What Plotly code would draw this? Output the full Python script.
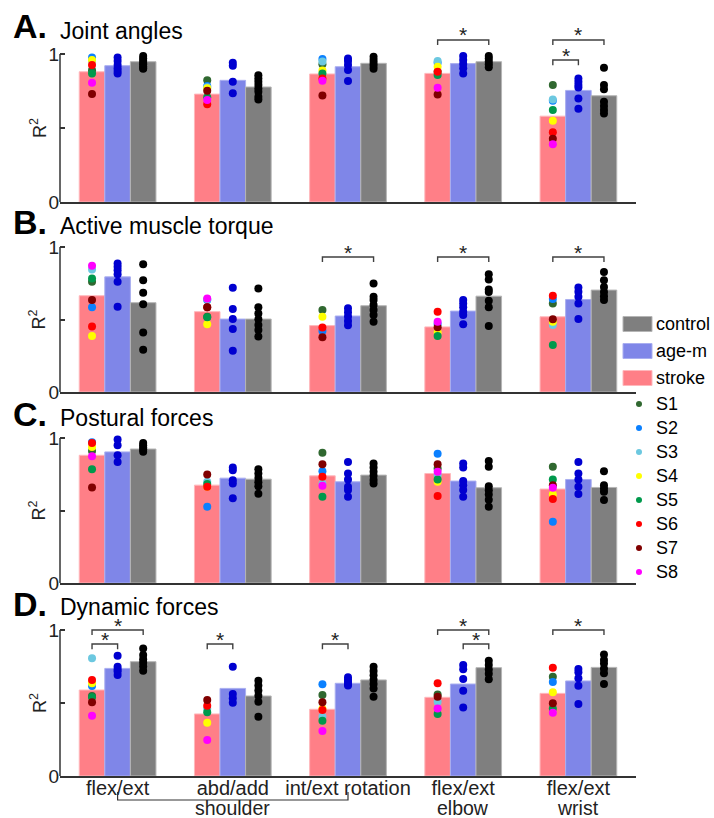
import plotly.graph_objects as go

FONT = "Liberation Sans, Arial, Helvetica, sans-serif"

# ---------------- data ----------------
groups = ["flex/ext", "abd/add", "int/ext rotation", "flex/ext", "flex/ext"]
group_line2 = ["", "", "", "elbow", "wrist"]
joint_label = "shoulder"

panel_letters = ["A.", "B.", "C.", "D."]
panel_titles = ["Joint angles", "Active muscle torque", "Postural forces", "Dynamic forces"]

series_names = ["stroke", "age-m", "control"]
subjects = ["S1", "S2", "S3", "S4", "S5", "S6", "S7", "S8"]

# bar heights (mean R^2) per panel
stroke_A = [0.880, 0.729, 0.865, 0.869, 0.580]
agem_A = [0.921, 0.822, 0.914, 0.935, 0.754]
control_A = [0.948, 0.777, 0.937, 0.948, 0.718]

stroke_B = [0.664, 0.554, 0.458, 0.449, 0.519]
agem_B = [0.794, 0.503, 0.524, 0.558, 0.638]
control_B = [0.616, 0.503, 0.595, 0.661, 0.703]

stroke_C = [0.881, 0.675, 0.739, 0.755, 0.648]
agem_C = [0.904, 0.723, 0.698, 0.703, 0.714]
control_C = [0.924, 0.716, 0.744, 0.657, 0.659]

stroke_D = [0.589, 0.425, 0.457, 0.539, 0.566]
agem_D = [0.737, 0.600, 0.635, 0.630, 0.651]
control_D = [0.783, 0.548, 0.658, 0.742, 0.744]

# individual stroke subjects S1..S8, one list per subject over the 5 DOFs
subj_A = [
    [0.890, 0.822, 0.930, 0.880, 0.790],
    [0.977, 0.783, 0.966, 0.941, 0.684],
    [0.955, 0.775, 0.950, 0.953, 0.693],
    [0.960, 0.768, 0.889, 0.914, 0.549],
    [0.869, 0.707, 0.869, 0.858, 0.621],
    [0.926, 0.661, 0.835, 0.880, 0.472],
    [0.729, 0.752, 0.720, 0.727, 0.427],
    [0.806, 0.690, 0.820, 0.772, 0.391],
]
subj_B = [
    [0.760, 0.519, 0.565, None, 0.611],
    [0.584, 0.634, 0.421, 0.469, 0.641],
    [0.844, 0.640, None, None, 0.462],
    [0.387, 0.467, 0.519, 0.410, 0.485],
    [0.783, 0.515, None, 0.387, 0.325],
    [0.451, 0.584, 0.444, 0.554, 0.664],
    [0.634, 0.584, 0.378, 0.446, 0.501],
    [0.870, 0.645, None, 0.485, None],
]
subj_C = [
    [0.911, None, 0.899, 0.789, 0.801],
    [0.970, 0.526, 0.771, 0.892, 0.423],
    [None, 0.698, 0.685, 0.744, None],
    [0.938, 0.664, None, 0.698, 0.611],
    [0.785, 0.682, 0.595, 0.714, 0.714],
    [0.966, 0.664, 0.732, 0.600, 0.579],
    [0.659, 0.748, 0.819, 0.819, 0.675],
    [0.874, None, 0.670, 0.767, 0.657],
]
subj_D = [
    [0.548, None, 0.555, 0.559, 0.680],
    [0.616, None, 0.628, None, 0.644],
    [0.806, 0.460, 0.406, 0.509, None],
    [0.635, 0.365, 0.460, None, 0.573],
    [0.540, 0.436, 0.379, 0.425, 0.463],
    [0.658, 0.482, 0.452, 0.635, 0.742],
    [0.505, 0.521, 0.505, 0.543, 0.498],
    [0.413, 0.247, 0.308, 0.463, 0.434],
]

# individual age-matched controls and young controls, per DOF
agem_pts_A = [[0.977, 0.953, 0.926, 0.903, 0.885, 0.869], [0.941, 0.921, 0.813, 0.734],
              [0.970, 0.953, 0.926, 0.892, 0.817], [0.986, 0.959, 0.932, 0.903, 0.869],
              [0.835, 0.813, 0.790, 0.774, 0.700, 0.630]]
control_pts_A = [[0.986, 0.970, 0.955, 0.940, 0.930, 0.915, 0.905, 0.900],
                 [0.856, 0.835, 0.813, 0.790, 0.767, 0.745, 0.711, 0.693],
                 [0.982, 0.960, 0.940, 0.920, 0.900], [0.986, 0.970, 0.950, 0.930, 0.910],
                 [0.907, 0.790, 0.761, 0.677, 0.648, 0.621, 0.598]]

agem_pts_B = [[0.886, 0.863, 0.840, 0.812, 0.760, 0.588], [0.719, 0.572, 0.503, 0.435, 0.284],
              [0.577, 0.550, 0.520, 0.490, 0.460], [0.634, 0.611, 0.584, 0.554, 0.531, 0.467],
              [0.721, 0.691, 0.657, 0.611, 0.503]]
control_pts_B = [[0.881, 0.771, 0.684, 0.606, 0.410, 0.291],
                 [0.714, 0.584, 0.542, 0.501, 0.462, 0.428, 0.382],
                 [0.748, 0.657, 0.634, 0.600, 0.565, 0.531, 0.485],
                 [0.812, 0.776, 0.707, 0.690, 0.629, 0.584, 0.455],
                 [0.828, 0.771, 0.725, 0.690, 0.660, 0.634]]

agem_pts_C = [[0.989, 0.950, 0.881, 0.835], [0.796, 0.778, 0.709, 0.686, 0.584],
              [0.835, 0.755, 0.714, 0.664, 0.641, 0.595], [0.824, 0.796, 0.703, 0.675, 0.641, 0.595],
              [0.835, 0.755, 0.714, 0.664, 0.613]]
control_pts_C = [[0.966, 0.950, 0.935, 0.920, 0.905], [0.785, 0.755, 0.725, 0.695, 0.668, 0.616],
                 [0.824, 0.796, 0.767, 0.740, 0.710, 0.686],
                 [0.842, 0.801, 0.668, 0.640, 0.610, 0.575, 0.526],
                 [0.771, 0.675, 0.652, 0.629, 0.572]]

agem_pts_D = [[0.824, 0.749, 0.730, 0.715, 0.692], [0.749, 0.562, 0.532, 0.502],
              [0.676, 0.660, 0.645, 0.630, 0.620], [0.760, 0.731, 0.664, 0.584, 0.470],
              [0.733, 0.710, 0.669, 0.619, 0.493]]
control_pts_D = [[0.874, 0.829, 0.800, 0.775, 0.750, 0.721],
                 [0.653, 0.620, 0.585, 0.550, 0.509, 0.406],
                 [0.749, 0.720, 0.690, 0.660, 0.630, 0.600, 0.543],
                 [0.790, 0.760, 0.730, 0.700, 0.662],
                 [0.833, 0.795, 0.770, 0.735, 0.703, 0.630]]

# significance brackets: (DOF index, from series, to series, bracket level)
sig_A = [(3, 0, 2, 1.095), (4, 0, 2, 1.095), (4, 0, 1, 0.959)]
sig_B = [(2, 0, 2, 0.931), (3, 0, 2, 0.931), (4, 0, 2, 0.931)]
sig_C = []
sig_D = [(0, 0, 2, 1.0), (0, 0, 1, 0.904), (1, 0, 1, 0.904), (2, 0, 1, 0.904),
         (3, 0, 2, 1.0), (3, 1, 2, 0.904), (4, 0, 2, 1.0)]

# ---------------- styles ----------------
bar_colors = ["#FF7F87", "#7F86E8", "#7F7F7F"]
bar_edges = ["#FFB8BC", "#A9AEF0", "#B5B5B5"]
subject_colors = ["#306830", "#0A80FF", "#6CC8E0", "#FFFF00",
                  "#00994C", "#FF0000", "#800000", "#FF00FF"]
agem_dot = "#0000D0"
control_dot = "#000000"
AXC = "#333333"

W = 714
REF_H = 818            # layout positions below are given in this frame
FIG_H = 829            # page height used so the photographed page maps onto REF_H
X_LEFT, X_RIGHT = 60, 636
YMAX = 1.12
panel_px = [(202, 148), (392, 145), (583, 145), (776, 146)]  # pixel of R2=0, px per unit
BW = 0.222
offsets = [-BW, 0.0, BW]

panels = [
    (stroke_A, agem_A, control_A, subj_A, agem_pts_A, control_pts_A, sig_A),
    (stroke_B, agem_B, control_B, subj_B, agem_pts_B, control_pts_B, sig_B),
    (stroke_C, agem_C, control_C, subj_C, agem_pts_C, control_pts_C, sig_C),
    (stroke_D, agem_D, control_D, subj_D, agem_pts_D, control_pts_D, sig_D),
]

fig = go.Figure()
annotations = []
shapes = []
layout = {}


def px(x):
    return x / W


def py(y):
    return 1 - y / REF_H


for p, (s_m, a_m, c_m, subj, a_pts, c_pts, sig) in enumerate(panels):
    xa = "x" if p == 0 else f"x{p + 1}"
    ya = "y" if p == 0 else f"y{p + 1}"
    xkey = "xaxis" if p == 0 else f"xaxis{p + 1}"
    ykey = "yaxis" if p == 0 else f"yaxis{p + 1}"
    idx = list(range(len(groups)))

    for k, means in enumerate([s_m, a_m, c_m]):
        fig.add_trace(go.Bar(
            x=[g + offsets[k] for g in idx], y=means, width=BW,
            marker=dict(color=bar_colors[k], line=dict(color=bar_edges[k], width=1)),
            xaxis=xa, yaxis=ya, showlegend=False, hoverinfo="skip", name=series_names[k]))

    for k, pts, col in [(1, a_pts, agem_dot), (2, c_pts, control_dot)]:
        xs, ys = [], []
        for g, vals in enumerate(pts):
            xs += [g + offsets[k]] * len(vals)
            ys += vals
        fig.add_trace(go.Scatter(x=xs, y=ys, mode="markers",
                                 marker=dict(color=col, size=8, line=dict(width=0)),
                                 xaxis=xa, yaxis=ya, showlegend=False, hoverinfo="skip",
                                 cliponaxis=False))

    for s in range(len(subjects)):
        fig.add_trace(go.Scatter(x=[g + offsets[0] for g in idx], y=subj[s], mode="markers",
                                 marker=dict(color=subject_colors[s], size=8, line=dict(width=0)),
                                 xaxis=xa, yaxis=ya, showlegend=False, hoverinfo="skip",
                                 cliponaxis=False, name=subjects[s]))

    for (g, a, b, lvl) in sig:
        x0, x1 = g + offsets[a], g + offsets[b]
        fig.add_trace(go.Scatter(x=[x0, x0, x1, x1], y=[lvl - 0.035, lvl, lvl, lvl - 0.035],
                                 mode="lines", line=dict(color="#404040", width=1.4),
                                 xaxis=xa, yaxis=ya, showlegend=False, hoverinfo="skip"))
        annotations.append(dict(x=(x0 + x1) / 2, y=lvl, xref=xa, yref=ya, text="*",
                                showarrow=False, yanchor="middle", yshift=5,
                                font=dict(family=FONT, size=21, color="#222")))

    y0px, scale = panel_px[p]
    ytop = y0px - YMAX * scale
    layout[xkey] = dict(domain=[px(X_LEFT), px(X_RIGHT)], range=[-0.5, 4.5], anchor=ya,
                        showline=True, linecolor=AXC, linewidth=1.5, ticks="",
                        showgrid=False, zeroline=False, tickvals=idx,
                        ticktext=groups, showticklabels=(p == 3),
                        ticklabelstandoff=-7,
                        tickfont=dict(family=FONT, size=20, color="#222"))
    layout[ykey] = dict(domain=[py(y0px), py(ytop)], range=[0, YMAX], anchor=xa,
                        showline=False, showgrid=False, zeroline=False,
                        ticks="inside", ticklen=5, tickwidth=1.5, tickcolor=AXC,
                        tickvals=[0, 1], ticktext=["0", "1"],
                        minor=dict(tickvals=[0.5], ticks="inside", ticklen=5,
                                   tickwidth=1.5, tickcolor=AXC, showgrid=False),
                        tickfont=dict(family=FONT, size=19, color="#222"))
    # y axis line from R2 = 0 to R2 = 1
    shapes.append(dict(type="line", xref="paper", yref="paper",
                       x0=px(X_LEFT), x1=px(X_LEFT), y0=py(y0px), y1=py(y0px - scale),
                       line=dict(color=AXC, width=1.5)))
    # y axis title
    annotations.append(dict(x=px(38), y=0.5, xref="paper", yref=ya, text="R<sup>2</sup>",
                            textangle=-90, showarrow=False, xanchor="center", yanchor="middle",
                            font=dict(family=FONT, size=18, color="#222")))

# panel titles
letter_y = [26, 222.5, 414, 604]
title_y = [31, 226, 417.5, 607]
for p in range(4):
    annotations.append(dict(x=px(11), y=py(letter_y[p]), xref="paper", yref="paper",
                            text=f"<b>{panel_letters[p]}</b>", showarrow=False,
                            xanchor="left", yanchor="middle",
                            font=dict(family=FONT, size=34, color="#000")))
    annotations.append(dict(x=px(58), y=py(title_y[p]), xref="paper", yref="paper",
                            text=panel_titles[p], showarrow=False,
                            xanchor="left", yanchor="middle",
                            font=dict(family=FONT, size=23, color="#000")))

# second line of x labels and joint label
for g, t in enumerate(group_line2):
    if t:
        annotations.append(dict(x=g, y=py(808), xref="x4", yref="paper", text=t,
                                showarrow=False, yanchor="middle",
                                font=dict(family=FONT, size=19.5, color="#222")))
annotations.append(dict(x=1, y=py(808), xref="x4", yref="paper", text=joint_label,
                        showarrow=False, yanchor="middle",
                        font=dict(family=FONT, size=19.5, color="#222")))
shapes.append(dict(type="path", xref="x4", yref="paper",
                   path=f"M 0 {py(792)} L 0 {py(800)} L 2 {py(800)} L 2 {py(792)}",
                   line=dict(color=AXC, width=1.2)))

# legend (manual)
leg_y = [324, 351, 378]
leg_order = [2, 1, 0]
for i, k in enumerate(leg_order):
    shapes.append(dict(type="rect", xref="paper", yref="paper",
                       x0=px(623), x1=px(652), y0=py(leg_y[i] + 7.5), y1=py(leg_y[i] - 7.5),
                       fillcolor=bar_colors[k], line=dict(color=bar_edges[k], width=1)))
    annotations.append(dict(x=px(654), y=py(leg_y[i]), xref="paper", yref="paper",
                            text=series_names[k], showarrow=False, xanchor="left",
                            yanchor="middle", font=dict(family=FONT, size=18, color="#000")))
for s in range(len(subjects)):
    yc = 404 + 24 * s
    shapes.append(dict(type="circle", xref="paper", yref="paper",
                       x0=px(636), x1=px(642), y0=py(yc + 3), y1=py(yc - 3),
                       fillcolor=subject_colors[s], line=dict(width=0)))
    annotations.append(dict(x=px(654), y=py(yc), xref="paper", yref="paper",
                            text=subjects[s], showarrow=False, xanchor="left",
                            yanchor="middle", font=dict(family=FONT, size=18, color="#000")))

fig.update_layout(
    width=W, height=FIG_H, margin=dict(l=0, r=0, t=0, b=0),
    paper_bgcolor="white", plot_bgcolor="white",
    barmode="overlay", showlegend=False,
    annotations=annotations, shapes=shapes,
    font=dict(family=FONT, color="#222"),
    **layout,
)

page_fix = ("document.documentElement.style.margin='0px';"
            "document.body.style.margin='0px';"
            "document.documentElement.style.overflow='hidden';"
            "document.body.style.overflow='hidden';")
fig.write_html("out.html", post_script=page_fix,
               config={"displayModeBar": False, "responsive": False})
